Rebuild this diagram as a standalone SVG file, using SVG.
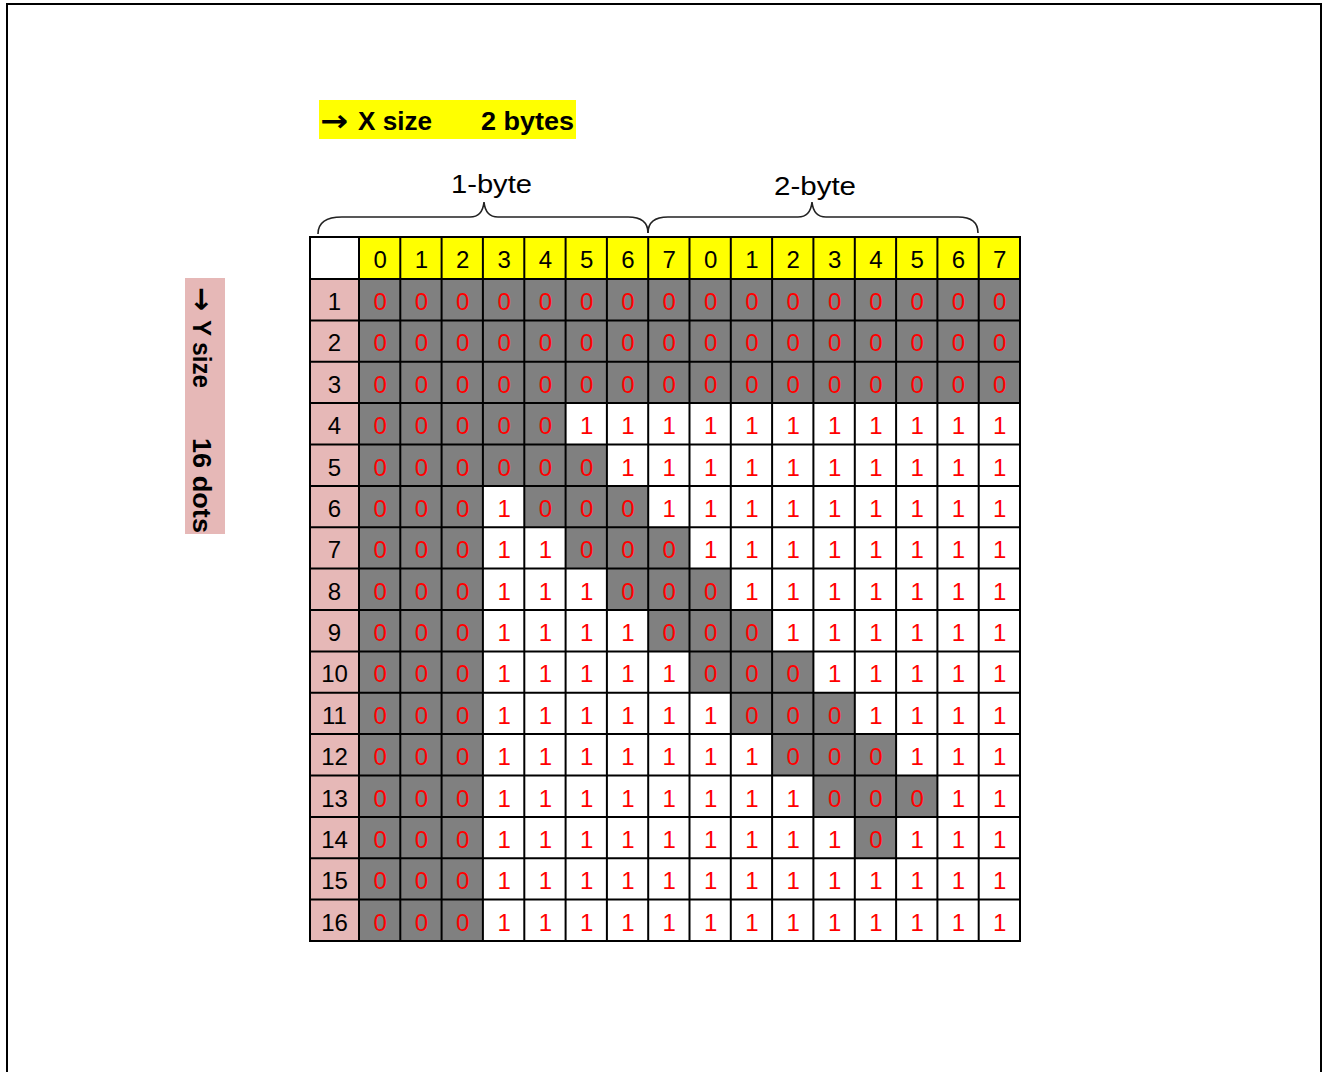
<svg xmlns="http://www.w3.org/2000/svg" width="1325" height="1072" viewBox="0 0 1325 1072">
<style>
.lbl{font-family:"Liberation Sans",Arial,sans-serif;font-weight:bold;font-size:25px;fill:#000}
.arr{font-family:"DejaVu Sans",sans-serif;font-weight:bold;font-size:30px;fill:#000}
.brl{font-family:"Liberation Sans",Arial,sans-serif;font-size:26px;fill:#000}
.num{font-family:"Liberation Sans",Arial,sans-serif;font-size:24px;text-anchor:middle}
.hd{fill:#000}
.rw{fill:#000}
.bit{fill:#ff0000}
.grid line{stroke:#000;stroke-width:2}
.brace{fill:none;stroke:#222;stroke-width:1.6}
</style>
<rect x="0" y="0" width="1325" height="1072" fill="#fff"/>
<path d="M7,1072 L7,4 L1321,4 L1321,1072" fill="none" stroke="#000" stroke-width="2"/>

<g id="x-label">
<rect x="319" y="100" width="257" height="39" fill="#ffff00"/>
<text class="arr" x="320" y="131" textLength="28" lengthAdjust="spacingAndGlyphs">→</text>
<text class="lbl" x="358" y="130" textLength="74" lengthAdjust="spacingAndGlyphs">X size</text>
<text class="lbl" x="481" y="130" textLength="93" lengthAdjust="spacingAndGlyphs">2 bytes</text>
</g>

<g id="y-label">
<rect x="185" y="278" width="40" height="256" fill="#e6b8b7"/>
<g transform="translate(193,0) rotate(90)">
<text class="arr" x="287" y="1" textLength="24" lengthAdjust="spacingAndGlyphs">→</text>
<text class="lbl" x="320" y="0" textLength="68" lengthAdjust="spacingAndGlyphs">Y size</text>
<text class="lbl" x="438" y="0" textLength="95" lengthAdjust="spacingAndGlyphs">16 dots</text>
</g>
</g>

<g id="braces">
<g id="brace-1byte">
<path class="brace" d="M318,234 C318,222 326,217 342,217 L470,217 C479,217 483,212 484,202 C485,212 489,217 498,217 L628,217 C642,217 648,223 648,233"/>
<text class="brl" x="451" y="193" textLength="81" lengthAdjust="spacingAndGlyphs">1-byte</text>
</g>
<g id="brace-2byte">
<path class="brace" d="M648,233 C648,223 654,217 668,217 L798,217 C807,217 811,212 812,202 C813,212 817,217 826,217 L958,217 C972,217 978,223 978,233"/>
<text class="brl" x="774" y="195" textLength="82" lengthAdjust="spacingAndGlyphs">2-byte</text>
</g>
</g>

<g id="grid">
<g id="cells">
<rect x="310" y="237" width="710" height="704" fill="#fff"/>
<rect x="359" y="237" width="661" height="42" fill="#ffff00"/>
<rect x="310" y="279" width="49" height="662" fill="#e6b8b7"/>
<g fill="#808080">
<rect x="359" y="279" width="661" height="124.1"/>
<rect x="359" y="403.1" width="123.9" height="537.9"/>
<rect x="482.9" y="403.1" width="82.7" height="41.4"/>
<rect x="482.9" y="444.5" width="124" height="41.4"/>
<rect x="524.3" y="485.9" width="123.9" height="41.4"/>
<rect x="565.6" y="527.3" width="123.9" height="41.3"/>
<rect x="606.9" y="568.6" width="123.9" height="41.4"/>
<rect x="648.2" y="610" width="123.9" height="41.4"/>
<rect x="689.5" y="651.4" width="123.9" height="41.4"/>
<rect x="730.8" y="692.8" width="124" height="41.3"/>
<rect x="772.1" y="734.1" width="124" height="41.4"/>
<rect x="813.4" y="775.5" width="124" height="41.4"/>
<rect x="854.8" y="816.9" width="41.3" height="41.4"/>
</g>
</g>
<g id="lines" class="grid">
<line x1="310" y1="236" x2="310" y2="942"/>
<line x1="359" y1="236" x2="359" y2="942"/>
<line x1="400.3" y1="236" x2="400.3" y2="942"/>
<line x1="441.6" y1="236" x2="441.6" y2="942"/>
<line x1="482.9" y1="236" x2="482.9" y2="942"/>
<line x1="524.3" y1="236" x2="524.3" y2="942"/>
<line x1="565.6" y1="236" x2="565.6" y2="942"/>
<line x1="606.9" y1="236" x2="606.9" y2="942"/>
<line x1="648.2" y1="236" x2="648.2" y2="942"/>
<line x1="689.5" y1="236" x2="689.5" y2="942"/>
<line x1="730.8" y1="236" x2="730.8" y2="942"/>
<line x1="772.1" y1="236" x2="772.1" y2="942"/>
<line x1="813.4" y1="236" x2="813.4" y2="942"/>
<line x1="854.8" y1="236" x2="854.8" y2="942"/>
<line x1="896.1" y1="236" x2="896.1" y2="942"/>
<line x1="937.4" y1="236" x2="937.4" y2="942"/>
<line x1="978.7" y1="236" x2="978.7" y2="942"/>
<line x1="1020" y1="236" x2="1020" y2="942"/>
<line x1="309" y1="237" x2="1021" y2="237"/>
<line x1="309" y1="279" x2="1021" y2="279"/>
<line x1="309" y1="320.4" x2="1021" y2="320.4"/>
<line x1="309" y1="361.8" x2="1021" y2="361.8"/>
<line x1="309" y1="403.1" x2="1021" y2="403.1"/>
<line x1="309" y1="444.5" x2="1021" y2="444.5"/>
<line x1="309" y1="485.9" x2="1021" y2="485.9"/>
<line x1="309" y1="527.3" x2="1021" y2="527.3"/>
<line x1="309" y1="568.6" x2="1021" y2="568.6"/>
<line x1="309" y1="610" x2="1021" y2="610"/>
<line x1="309" y1="651.4" x2="1021" y2="651.4"/>
<line x1="309" y1="692.8" x2="1021" y2="692.8"/>
<line x1="309" y1="734.1" x2="1021" y2="734.1"/>
<line x1="309" y1="775.5" x2="1021" y2="775.5"/>
<line x1="309" y1="816.9" x2="1021" y2="816.9"/>
<line x1="309" y1="858.3" x2="1021" y2="858.3"/>
<line x1="309" y1="899.6" x2="1021" y2="899.6"/>
<line x1="309" y1="941" x2="1021" y2="941"/>
</g>
<g id="header" class="num hd">
<text x="380.2 421.5 462.8 504.1 545.4 586.7 628 669.3 710.7 752 793.3 834.6 875.9 917.2 958.5 999.8" y="268">0123456701234567</text>
</g>
<g id="row-labels" class="num rw">
<text x="334.5" y="310">1</text>
<text x="334.5" y="351.4">2</text>
<text x="334.5" y="392.8">3</text>
<text x="334.5" y="434.1">4</text>
<text x="334.5" y="475.5">5</text>
<text x="334.5" y="516.9">6</text>
<text x="334.5" y="558.3">7</text>
<text x="334.5" y="599.6">8</text>
<text x="334.5" y="641">9</text>
<text x="334.5" y="682.4">10</text>
<text x="334.5" y="723.8">11</text>
<text x="334.5" y="765.1">12</text>
<text x="334.5" y="806.5">13</text>
<text x="334.5" y="847.9">14</text>
<text x="334.5" y="889.3">15</text>
<text x="334.5" y="930.6">16</text>
</g>
<g id="bits" class="num bit">
<text x="380.2 421.5 462.8 504.1 545.4 586.7 628 669.3 710.7 752 793.3 834.6 875.9 917.2 958.5 999.8" y="310">0000000000000000</text>
<text x="380.2 421.5 462.8 504.1 545.4 586.7 628 669.3 710.7 752 793.3 834.6 875.9 917.2 958.5 999.8" y="351.4">0000000000000000</text>
<text x="380.2 421.5 462.8 504.1 545.4 586.7 628 669.3 710.7 752 793.3 834.6 875.9 917.2 958.5 999.8" y="392.8">0000000000000000</text>
<text x="380.2 421.5 462.8 504.1 545.4 586.7 628 669.3 710.7 752 793.3 834.6 875.9 917.2 958.5 999.8" y="434.1">0000011111111111</text>
<text x="380.2 421.5 462.8 504.1 545.4 586.7 628 669.3 710.7 752 793.3 834.6 875.9 917.2 958.5 999.8" y="475.5">0000001111111111</text>
<text x="380.2 421.5 462.8 504.1 545.4 586.7 628 669.3 710.7 752 793.3 834.6 875.9 917.2 958.5 999.8" y="516.9">0001000111111111</text>
<text x="380.2 421.5 462.8 504.1 545.4 586.7 628 669.3 710.7 752 793.3 834.6 875.9 917.2 958.5 999.8" y="558.3">0001100011111111</text>
<text x="380.2 421.5 462.8 504.1 545.4 586.7 628 669.3 710.7 752 793.3 834.6 875.9 917.2 958.5 999.8" y="599.6">0001110001111111</text>
<text x="380.2 421.5 462.8 504.1 545.4 586.7 628 669.3 710.7 752 793.3 834.6 875.9 917.2 958.5 999.8" y="641">0001111000111111</text>
<text x="380.2 421.5 462.8 504.1 545.4 586.7 628 669.3 710.7 752 793.3 834.6 875.9 917.2 958.5 999.8" y="682.4">0001111100011111</text>
<text x="380.2 421.5 462.8 504.1 545.4 586.7 628 669.3 710.7 752 793.3 834.6 875.9 917.2 958.5 999.8" y="723.8">0001111110001111</text>
<text x="380.2 421.5 462.8 504.1 545.4 586.7 628 669.3 710.7 752 793.3 834.6 875.9 917.2 958.5 999.8" y="765.1">0001111111000111</text>
<text x="380.2 421.5 462.8 504.1 545.4 586.7 628 669.3 710.7 752 793.3 834.6 875.9 917.2 958.5 999.8" y="806.5">0001111111100011</text>
<text x="380.2 421.5 462.8 504.1 545.4 586.7 628 669.3 710.7 752 793.3 834.6 875.9 917.2 958.5 999.8" y="847.9">0001111111110111</text>
<text x="380.2 421.5 462.8 504.1 545.4 586.7 628 669.3 710.7 752 793.3 834.6 875.9 917.2 958.5 999.8" y="889.3">0001111111111111</text>
<text x="380.2 421.5 462.8 504.1 545.4 586.7 628 669.3 710.7 752 793.3 834.6 875.9 917.2 958.5 999.8" y="930.6">0001111111111111</text>
</g>
</g>
</svg>
